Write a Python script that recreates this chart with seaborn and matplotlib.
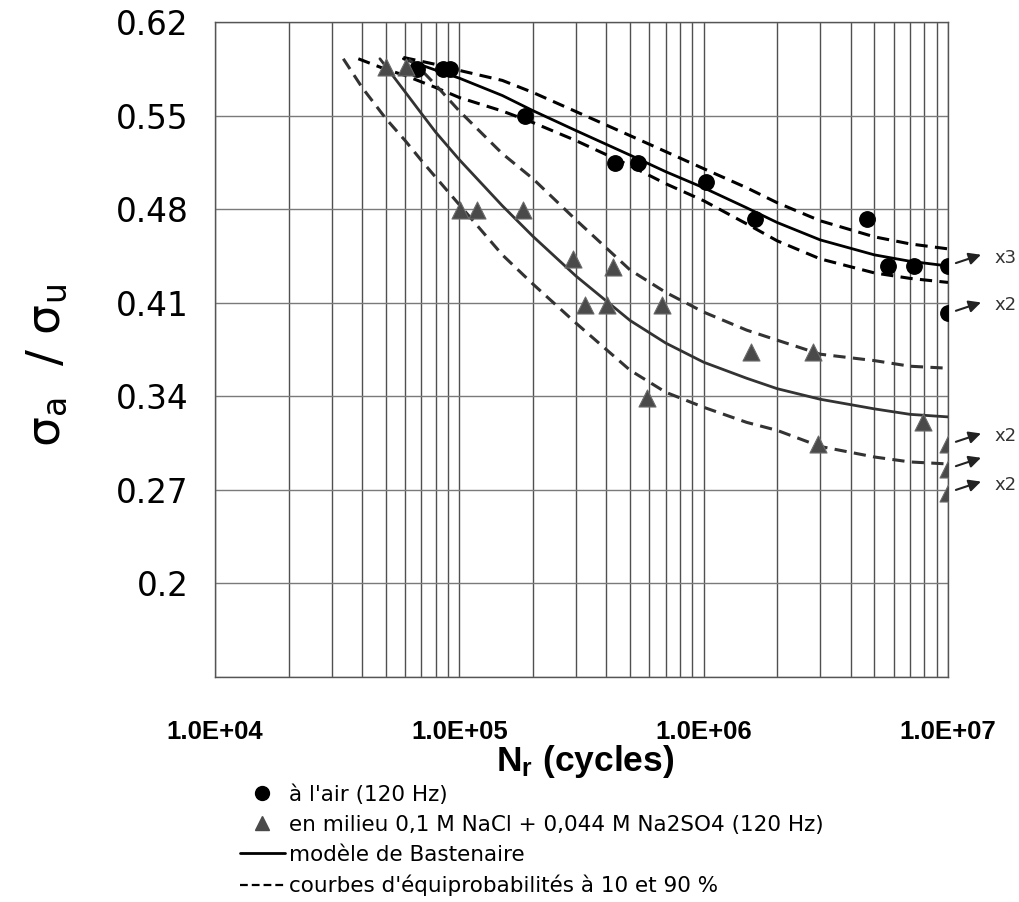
import matplotlib
matplotlib.use("Agg")
import matplotlib.pyplot as plt
import seaborn as sns
import pandas as pd
from matplotlib.lines import Line2D
from matplotlib.ticker import LogLocator, NullFormatter

# measured points
air_N = [6.7e4, 8.6e4, 9.2e4, 1.86e5, 4.34e5, 5.4e5, 1.02e6, 1.62e6, 4.66e6, 5.7e6, 7.28e6, 1e7, 1e7]
air_s = [0.585, 0.585, 0.585, 0.550, 0.5145, 0.5145, 0.500, 0.473, 0.473, 0.4377, 0.4377, 0.4377, 0.402]

salt_N = [5.0e4, 6.05e4, 1.006e5, 1.18e5, 1.83e5, 2.91e5, 4.27e5, 3.27e5, 4.04e5, 6.73e5,
          5.89e5, 1.56e6, 2.81e6, 2.95e6, 7.89e6, 1e7, 1e7, 1e7]
salt_s = [0.586, 0.586, 0.479, 0.479, 0.479, 0.443, 0.4365, 0.408, 0.408, 0.408,
          0.339, 0.373, 0.373, 0.304, 0.3207, 0.304, 0.2858, 0.268]

# Bastenaire model + 10/90 % curves
air_fit_N = [5.9e4, 8e4, 1e5, 1.5e5, 2e5, 3e5, 5e5, 7e5, 1e6, 1.5e6, 2e6, 3e6, 5e6, 7e6, 1e7]
air_fit = [0.5925, 0.584, 0.578, 0.565, 0.5537, 0.5388, 0.5204, 0.508, 0.496, 0.481, 0.470, 0.457, 0.4458, 0.441, 0.4375]
air_hi = [0.5935, 0.5883, 0.5838, 0.5763, 0.5673, 0.553, 0.535, 0.523, 0.5103, 0.496, 0.4848, 0.4713, 0.4593, 0.454, 0.4503]

air_lo_N = [3.86e4, 5e4, 6e4, 8e4, 1e5, 1.5e5, 2e5, 3e5, 5e5, 7e5, 1e6, 1.5e6, 2e6, 3e6, 5e6, 7e6, 1e7]
air_lo = [0.5925, 0.5846, 0.580, 0.571, 0.5635, 0.5534, 0.5448, 0.5313, 0.5125, 0.499, 0.4863, 0.469,
          0.4563, 0.4428, 0.4323, 0.4282, 0.4252]

salt_fit_N = [4.73e4, 5e4, 6e4, 7e4, 8e4, 1e5, 1.5e5, 2e5, 3e5, 5e5, 7e5, 1e6, 1.5e6, 2e6, 3e6, 5e6, 7e6, 1e7]
salt_fit = [0.5925, 0.5868, 0.5677, 0.5515, 0.5376, 0.517, 0.4825, 0.4597, 0.430, 0.3967, 0.3798,
            0.3655, 0.3535, 0.3457, 0.3378, 0.3306, 0.3265, 0.3246]

salt_hi_N = [6.2e4, 7e4, 8e4, 1e5, 1.5e5, 2e5, 3e5, 5e5, 7e5, 1e6, 1.5e6, 2e6, 3e6, 5e6, 7e6, 1e7]
salt_hi = [0.592, 0.584, 0.5729, 0.5534, 0.5215, 0.5028, 0.472, 0.4345, 0.4177, 0.403, 0.3895,
           0.382, 0.3715, 0.3667, 0.3625, 0.361]

salt_lo_N = [3.35e4, 4e4, 5e4, 6e4, 7e4, 8e4, 1e5, 1.5e5, 2e5, 3e5, 5e5, 7e5, 1e6, 1.5e6, 2e6, 3e6, 5e6, 7e6, 1e7]
salt_lo = [0.5925, 0.571, 0.5478, 0.5313, 0.5163, 0.5039, 0.4833, 0.4458, 0.424, 0.3948, 0.3595,
           0.343, 0.3318, 0.3205, 0.3145, 0.3025, 0.2946, 0.2909, 0.2894]

# run-outs at 1e7 cycles
ann_s = [0.4377, 0.402, 0.304, 0.2858, 0.268]
ann_txt = ["x3", "x2", "x2", "", "x2"]

y_ticks = [0.13, 0.2, 0.27, 0.34, 0.41, 0.48, 0.55, 0.62]
y_labels = ["", "0.2", "0.27", "0.34", "0.41", "0.48", "0.55", "0.62"]
x_ticks = [1e4, 1e5, 1e6, 1e7]
x_labels = ["1.0E+04", "1.0E+05", "1.0E+06", "1.0E+07"]

sns.set_style("white")
plt.rcParams["font.family"] = ["DejaVu Sans"]
plt.rcParams["text.color"] = "black"
plt.rcParams["axes.labelcolor"] = "black"
plt.rcParams["xtick.labelcolor"] = "black"
plt.rcParams["ytick.labelcolor"] = "black"

fig = plt.figure(figsize=(10.2, 9.02), dpi=100)
ax = fig.add_axes([0.2108, 0.2494, 0.7186, 0.7262])
ax.set_xscale("log")

dash = (4, 2.4)
k = "black"
g = "#333333"
sns.lineplot(x=air_fit_N, y=air_fit, ax=ax, color=k, lw=2.0, zorder=3)
sns.lineplot(x=air_fit_N, y=air_hi, ax=ax, color=k, lw=2.2, zorder=3).lines[-1].set_dashes(dash)
sns.lineplot(x=air_lo_N, y=air_lo, ax=ax, color=k, lw=2.2, zorder=3).lines[-1].set_dashes(dash)
sns.lineplot(x=salt_fit_N, y=salt_fit, ax=ax, color=g, lw=2.0, zorder=3)
sns.lineplot(x=salt_hi_N, y=salt_hi, ax=ax, color=g, lw=2.2, zorder=3).lines[-1].set_dashes(dash)
sns.lineplot(x=salt_lo_N, y=salt_lo, ax=ax, color=g, lw=2.2, zorder=3).lines[-1].set_dashes(dash)

sns.scatterplot(x=air_N, y=air_s, ax=ax, marker="o", s=125, color="black", edgecolor="black", zorder=4)
sns.scatterplot(x=salt_N, y=salt_s, ax=ax, marker="^", s=150, color="#4a4a4a", edgecolor="#6a6a6a",
                linewidth=0.8, zorder=4)

for yv, t in zip(ann_s, ann_txt):
    ax.annotate("", xy=(1e7, yv), xytext=(33, 11), textcoords="offset pixels",
                arrowprops=dict(arrowstyle="<|-", color="#222222", lw=1.5, mutation_scale=18,
                                shrinkA=0, shrinkB=6), annotation_clip=False)
    if t:
        ax.annotate(t, xy=(1e7, yv), xytext=(46, 8), textcoords="offset pixels",
                    ha="left", va="center", fontsize=13, color="#333333", annotation_clip=False)

ax.set_xlim(1e4, 1e7)
ax.set_ylim(0.13, 0.62)
ax.set_xticks(x_ticks)
ax.set_xticklabels(x_labels, fontfamily="Liberation Sans", fontweight="bold", fontsize=18.5)
ax.xaxis.set_minor_locator(LogLocator(base=10, subs=range(2, 10)))
ax.xaxis.set_minor_formatter(NullFormatter())
ax.set_yticks(y_ticks)
ax.set_yticklabels(y_labels, fontsize=23.5)
ax.tick_params(axis="x", which="major", direction="out", length=9, width=1, color="#555555", pad=22)
ax.tick_params(axis="x", which="minor", length=0)
ax.tick_params(axis="y", direction="out", length=8, width=1, color="#555555", pad=11)

ax.grid(True, which="major", axis="y", color="#7a7a7a", lw=1.0)
ax.grid(True, which="both", axis="x", color="#505050", lw=1.0)
for sp in ax.spines.values():
    sp.set_color("#555555")
    sp.set_linewidth(1.0)

ax.set_xlabel("N$\\mathregular{_r}$ (cycles)", fontfamily="Liberation Sans", fontweight="bold", fontsize=25.5)
ax.xaxis.set_label_coords(0.505, -0.1)
ax.set_ylabel("σ$\\mathregular{_a}$  / σ$\\mathregular{_u}$", fontsize=34)
ax.yaxis.set_label_coords(-0.198, 0.476)

handles = [
    Line2D([], [], ls="none", marker="o", ms=10, color="black"),
    Line2D([], [], ls="none", marker="^", ms=10, color="#4a4a4a"),
    Line2D([], [], color="black", lw=2.0),
    Line2D([], [], color="black", lw=1.6, dashes=(3.5, 1.8)),
]
labels = ["à l'air (120 Hz)",
          "en milieu 0,1 M NaCl + 0,044 M Na2SO4 (120 Hz)",
          "modèle de Bastenaire",
          "courbes d'équiprobabilités à 10 et 90 %"]
fig.legend(handles, labels, loc="upper left", bbox_to_anchor=(0.235, 0.1308), frameon=False,
           fontsize=15.5, handlelength=2.1, handletextpad=0.2, labelspacing=0.47,
           borderaxespad=0, borderpad=0)

fig.savefig("out.png", dpi=100)
